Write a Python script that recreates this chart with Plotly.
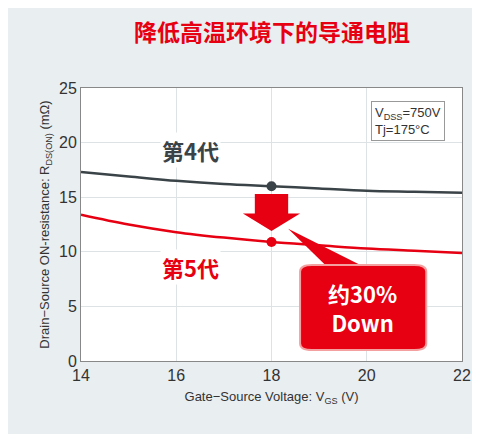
import plotly.graph_objects as go

vgs = [14, 15, 16, 17, 18, 19, 20, 21, 22]
gen4 = [17.3, 16.9, 16.5, 16.2, 16.0, 15.8, 15.6, 15.5, 15.4]
gen5 = [13.4, 12.5, 11.8, 11.3, 10.9, 10.6, 10.3, 10.1, 9.9]
mark_x = 18
mark4 = 16.0
mark5 = 10.9
RED = "#e60012"
DARK = "#3a4347"
CJK = "Noto Sans CJK SC"

fig = go.Figure()
fig.add_trace(go.Scatter(x=vgs, y=gen4, mode="lines", line=dict(color=DARK, width=2.5, shape="spline")))
fig.add_trace(go.Scatter(x=vgs, y=gen5, mode="lines", line=dict(color=RED, width=2.5, shape="spline")))
fig.add_trace(go.Scatter(x=[mark_x], y=[mark4], mode="markers", marker=dict(color=DARK, size=10)))
fig.add_trace(go.Scatter(x=[mark_x], y=[mark5], mode="markers", marker=dict(color=RED, size=10)))

shapes = [
    dict(type="path", xref="x", yref="y", fillcolor=RED, line=dict(width=0),
         path="M 17.65 15.3 L 18.35 15.3 L 18.35 13.5 L 18.6 13.5 L 18.0 11.9 L 17.4 13.5 L 17.65 13.5 Z"),
    dict(type="path", xref="x", yref="y", fillcolor=RED, line=dict(width=0),
         path="M 18.35 12.1 L 20.0 8.5 L 19.2 8.5 Z"),
    dict(type="path", xref="x", yref="y", fillcolor=RED, line=dict(color="#f5a0a0", width=2),
         path="M 18.85 8.8 L 21.0 8.8 Q 21.25 8.8 21.25 8.2 L 21.25 1.6 Q 21.25 1.0 21.0 1.0 "
              "L 18.85 1.0 Q 18.6 1.0 18.6 1.6 L 18.6 8.2 Q 18.6 8.8 18.85 8.8 Z"),
]
fig.update_layout(shapes=shapes)

ann = [
    dict(text="<b>降低高温环境下的导通电阻</b>", xref="paper", yref="paper", x=0.5, y=1.21, yanchor="middle",
         showarrow=False, font=dict(family=CJK, size=23, color=RED), xanchor="center"),
    dict(text="<b>第4代</b>", x=16.3, y=19.3, xref="x", yref="y", showarrow=False,
         font=dict(family=CJK, size=22, color=DARK), bgcolor="white"),
    dict(text="<b>第5代</b>", x=16.3, y=8.6, xref="x", yref="y", showarrow=False,
         font=dict(family=CJK, size=22, color=RED), bgcolor="white"),
    dict(text="<b>约30%<br>Down</b>", x=19.92, y=4.9, xref="x", yref="y", showarrow=False,
         font=dict(family=CJK, size=22, color="white"), align="center"),
    dict(text="V<sub>DSS</sub>=750V<br>Tj=175°C", x=21.65, y=23.8, xref="x", yref="y", showarrow=False,
         xanchor="right", yanchor="top", align="left", font=dict(family="Liberation Sans", size=13, color="#333"),
         bordercolor="#999", borderwidth=1, bgcolor="white", borderpad=3),
]
fig.update_layout(annotations=ann)

axis_common = dict(showline=True, linecolor="#888", mirror=True, gridcolor="#dde3e5", zeroline=False,
                   tickfont=dict(family="Liberation Sans", size=16, color="#333"), ticks="")
fig.update_xaxes(range=[14, 22], dtick=2, **axis_common,
                 title=dict(text="Gate−Source Voltage: V<sub>GS</sub> (V)", font=dict(family="Liberation Sans", size=13, color="#333"), standoff=8))
fig.update_yaxes(range=[0, 25], dtick=5, **axis_common,
                 title=dict(text="Drain−Source ON-resistance: R<sub>DS(ON)</sub> (mΩ)", font=dict(family="Liberation Sans", size=13, color="#333"), standoff=6))
fig.update_layout(width=480, height=434, showlegend=False, paper_bgcolor="#e9eef0", plot_bgcolor="white",
                  margin=dict(l=73, r=26, t=80, b=81))
fig.write_html("out.html")
